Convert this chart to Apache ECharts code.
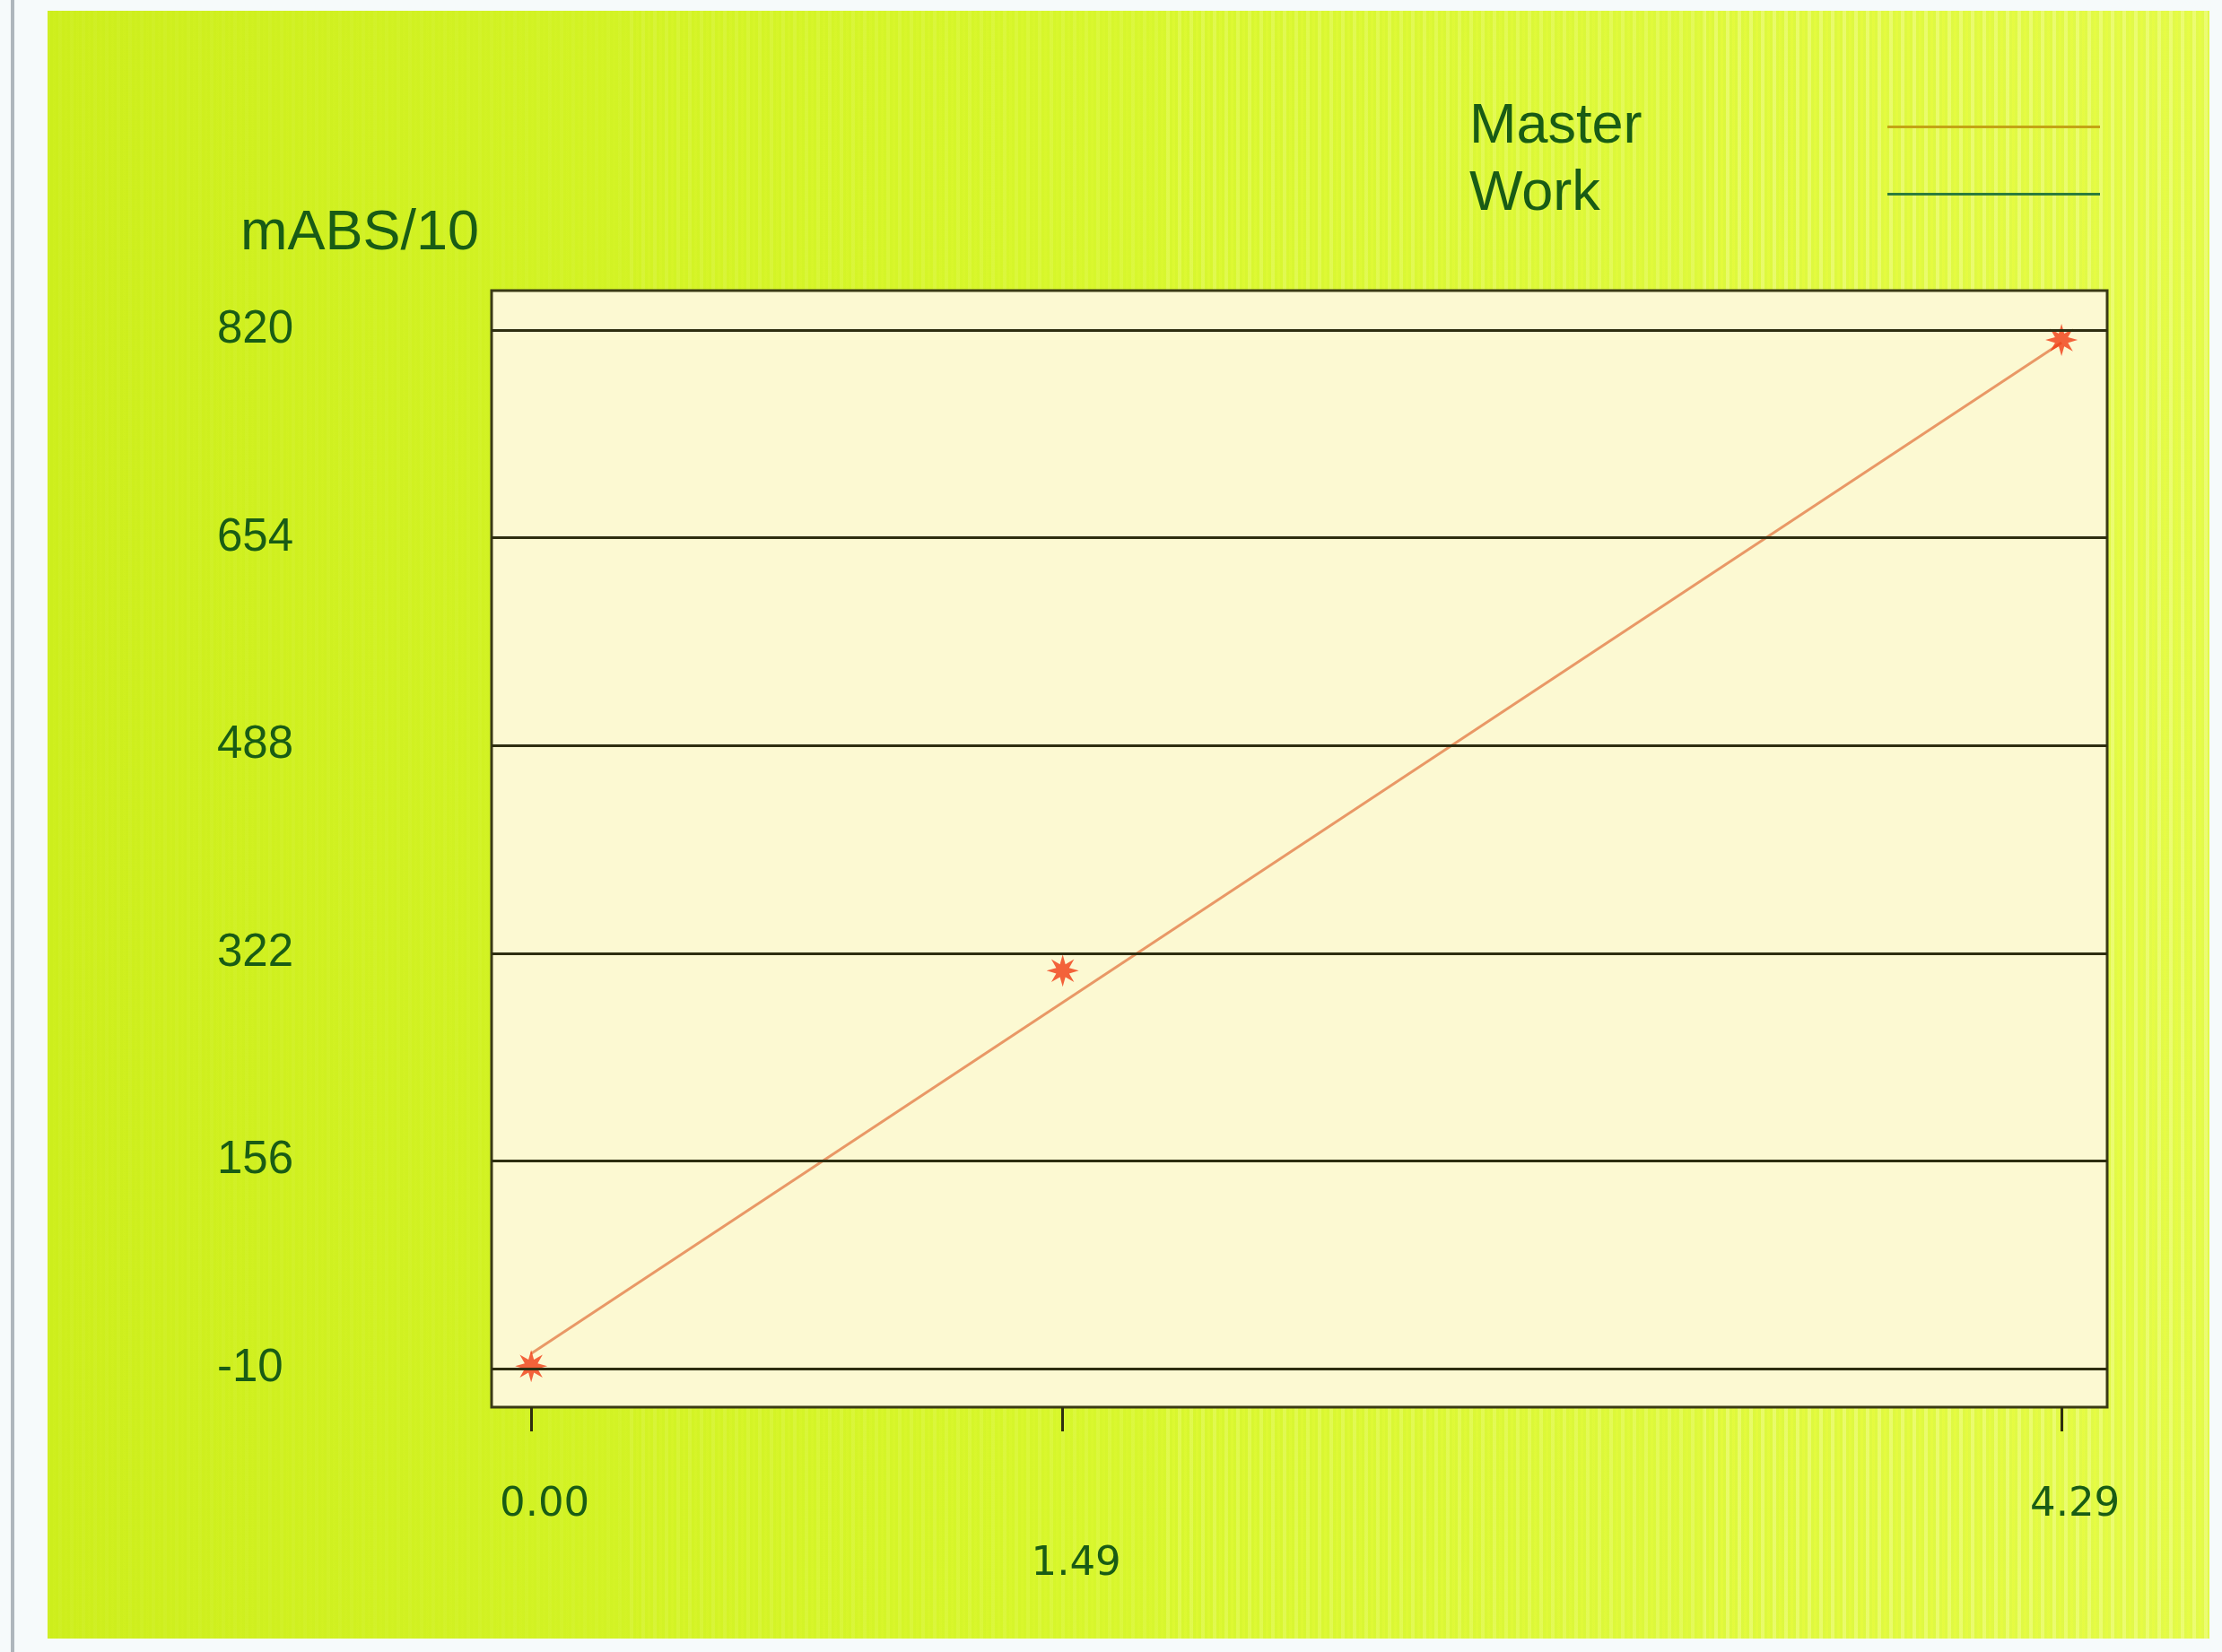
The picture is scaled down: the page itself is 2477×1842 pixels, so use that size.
<!DOCTYPE html>
<html>
<head>
<meta charset="utf-8">
<title>mABS/10</title>
<script src="https://cdn.jsdelivr.net/npm/echarts@6/dist/echarts.min.js"></script>
<style>
  html, body { margin: 0; padding: 0; background: #f6fafb; }
  #chart { width: 2477px; height: 1842px; }
</style>
</head>
<body>
<div id="chart"></div>
<script>
// calibration standards (conc, mABS/10)
const masterX = [0.00, 1.49, 4.29];
const masterY = [-8, 308, 812];
// master fit line, read at both ends
const fitX = [0.00, 4.29];
const fitY = [2, 810];
// work curve: nothing drawn yet
const workX = [];
const workY = [];

const yTicks = [820, 654, 488, 322, 156, -10];
const xTicks = [0.00, 1.49, 4.29];
const xTickLabels = ["0.00", "1.49", "4.29"];

const textColor = "#195c15";
const star = "path://M10,0 L4,1.7 L7.07,7.07 L1.7,4 L0,10 L-1.7,4 L-7.07,7.07 L-4,1.7 L-10,0 L-4,-1.7 L-7.07,-7.07 L-1.7,-4 L0,-10 L1.7,-4 L7.07,-7.07 L4,-1.7 Z";

// faint vertical stripes, like the screen moire in the photo
var stripe = document.createElement("canvas");
stripe.width = 13;
stripe.height = 4;
var sctx = stripe.getContext("2d");
sctx.fillStyle = "rgba(255,255,190,1)";
sctx.fillRect(0, 0, 4, 4);
sctx.fillStyle = "rgba(240,255,60,1)";
sctx.fillRect(7, 0, 3, 4);

// stripe bands get stronger to the right
const bands = [
  [53, 700, 0.05],
  [700, 1300, 0.12],
  [1300, 1900, 0.22],
  [1900, 2463, 0.34],
];

var chart = echarts.init(document.getElementById("chart"));

const option = {
  animation: false,
  graphic: [
    {
      type: "rect",
      z: -100,
      silent: true,
      shape: { x: 12, y: 0, width: 4, height: 1842 },
      style: { fill: "#aeb6bc" },
    },
    {
      type: "rect",
      z: -99,
      silent: true,
      shape: { x: 53, y: 12, width: 2410, height: 1815 },
      style: {
        fill: new echarts.graphic.LinearGradient(0, 0, 1, 0, [
          { offset: 0, color: "#cdee1c" },
          { offset: 0.45, color: "#d6f62a" },
          { offset: 1, color: "#e2fa4a" },
        ]),
      },
    },
  ].concat(
    bands.map((b) => ({
      type: "rect",
      z: -98,
      silent: true,
      shape: { x: b[0], y: 12, width: b[1] - b[0], height: 1815 },
      style: { fill: { image: stripe, repeat: "repeat" }, opacity: b[2] },
    }))
  ),
  title: {
    text: "mABS/10",
    left: 263,
    top: 224,
    textStyle: {
      fontFamily: "Liberation Sans",
      fontWeight: "normal",
      fontSize: 63,
      color: textColor,
    },
  },
  legend: {
    orient: "vertical",
    right: 131,
    top: 105,
    align: "right",
    itemGap: 12,
    icon: "rect",
    itemWidth: 237,
    itemHeight: 3,
    selectedMode: false,
    data: [
      { name: "Master", itemStyle: { color: "#c4a414" } },
      { name: "Work", itemStyle: { color: "#2c7c3c" } },
    ],
    formatter: (name) => `{n|${name}}`,
    textStyle: {
      rich: {
        n: {
          width: 461,
          align: "left",
          fontSize: 63,
          lineHeight: 64,
          fontFamily: "Liberation Sans",
          color: textColor,
        },
      },
    },
  },
  grid: {
    left: 548,
    top: 324,
    right: 128,
    bottom: 273,
    show: true,
    backgroundColor: "#fcf9d2",
    borderColor: "#3a3a14",
    borderWidth: 3,
    outerBoundsMode: "none",
  },
  xAxis: {
    type: "value",
    min: -0.111,
    max: 4.418,
    axisLine: { show: false, onZero: false },
    splitLine: { show: false },
    axisTick: {
      customValues: xTicks,
      length: 27,
      lineStyle: { color: "#2e2e10", width: 3 },
    },
    axisLabel: {
      customValues: xTicks,
      margin: 76,
      padding: [0, 0, 0, 30],
      fontFamily: "DejaVu Sans",
      fontSize: 45,
      lineHeight: 66,
      color: textColor,
      formatter: (value) => {
        const i = xTicks.findIndex((t) => Math.abs(t - value) < 1e-6);
        const t = xTickLabels[i];
        // middle label sits one line lower
        return i === 1 ? "\n" + t : t;
      },
    },
  },
  yAxis: {
    type: "value",
    min: -40.8,
    max: 851.5,
    axisLine: { show: false, onZero: false },
    axisTick: { show: false },
    splitLine: { show: false },
    axisLabel: {
      customValues: yTicks,
      align: "left",
      margin: 306,
      fontFamily: "Liberation Sans",
      fontSize: 51,
      color: textColor,
    },
  },
  series: [
    {
      name: "Work",
      type: "line",
      z: 1,
      data: workX.map((x, i) => [x, workY[i]]),
      itemStyle: { color: "#2c7c3c" },
      lineStyle: { color: "#2c7c3c", width: 3 },
      markLine: {
        silent: true,
        symbol: "none",
        label: { show: false },
        lineStyle: { color: "#2e2e10", width: 3, type: "solid" },
        data: yTicks.map((v) => ({ yAxis: v })),
      },
    },
    {
      name: "Master",
      type: "line",
      z: 3,
      data: fitX.map((x, i) => [x, fitY[i]]),
      showSymbol: false,
      itemStyle: { color: "#c4a414" },
      lineStyle: { color: "#e99866", width: 3 },
    },
    {
      name: "Master",
      type: "scatter",
      z: 4,
      data: masterX.map((x, i) => [x, masterY[i]]),
      symbol: star,
      symbolSize: 36,
      itemStyle: { color: "#f03c14" },
    },
  ],
};
chart.setOption(option);
</script>
</body>
</html>
